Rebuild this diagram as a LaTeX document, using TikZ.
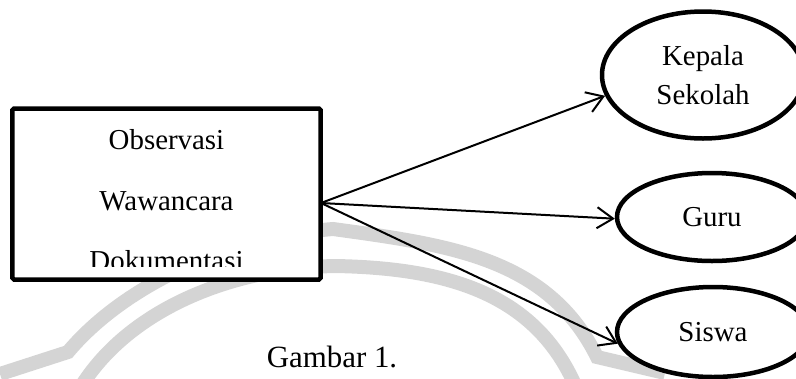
\documentclass[tikz,border=0pt]{standalone}
\usepackage{fontspec}
\setmainfont{Liberation Serif}
\usetikzlibrary{arrows.meta,shapes.geometric}

\begin{document}
\begin{tikzpicture}[x=1bp,y=-1bp,
  boxline/.style={draw, line width=4.5bp, fill=white, rounded corners=1.5bp, inner sep=0pt},
  boxtext/.style={font=\fontsize{29}{34}\selectfont, anchor=base, inner sep=0pt},
  oval/.style={ellipse, draw, fill=white, line width=4.5bp, inner sep=0pt, align=center,
               font=\fontsize{29}{39}\selectfont},
  link/.style={line width=2bp, line cap=round,
               -{Straight Barb[length=16bp,width=21bp,line width=2bp]}},
  wm/.style={line width=14bp, draw=black!17, line cap=butt, line join=miter}
]
\useasboundingbox (0,0) rectangle (796,378);
\clip (0,0) rectangle (796,378);

% faint background emblem
\draw[wm] (0,374) -- (68,352) .. controls (120,290) and (220,238) .. (333,229)
          .. controls (450,245) and (548,258) .. (597,357) -- (665,373);
\draw[wm] (82,385) .. controls (130,310) and (230,268) .. (335,266)
          .. controls (450,268) and (535,295) .. (575,385);

% source box
\node[boxline, minimum width=308bp, minimum height=171bp] (box) at (166.5,194) {};
\node[boxtext] (obs) at (166.5,149) {Observasi};
\node[boxtext] (waw) at (166.5,210) {Wawancara};
\begin{scope}
  \clip (14,110) rectangle (319,266);
  \node[boxtext] (dok) at (166.5,270) {Dokumentasi};
\end{scope}

% informants
\node[oval, minimum width=202bp, minimum height=127bp] (kepala) at (703,75) {Kepala\\Sekolah};
\node[oval, minimum width=190bp, minimum height=88bp] (guru) at (712,217) {Guru};
\node[oval, minimum width=192bp, minimum height=90bp] (siswa) at (713,332) {Siswa};

% connectors
\coordinate (src) at (321,203);
\draw[link] (src) -- (kepala.192);
\draw[link] (src) -- (guru.181);
\draw[link] (src) -- (siswa.187);

% caption
\node[font=\fontsize{31}{36}\selectfont, anchor=base, inner sep=0pt] (cap) at (332,367) {Gambar 1.};
\end{tikzpicture}
\end{document}
